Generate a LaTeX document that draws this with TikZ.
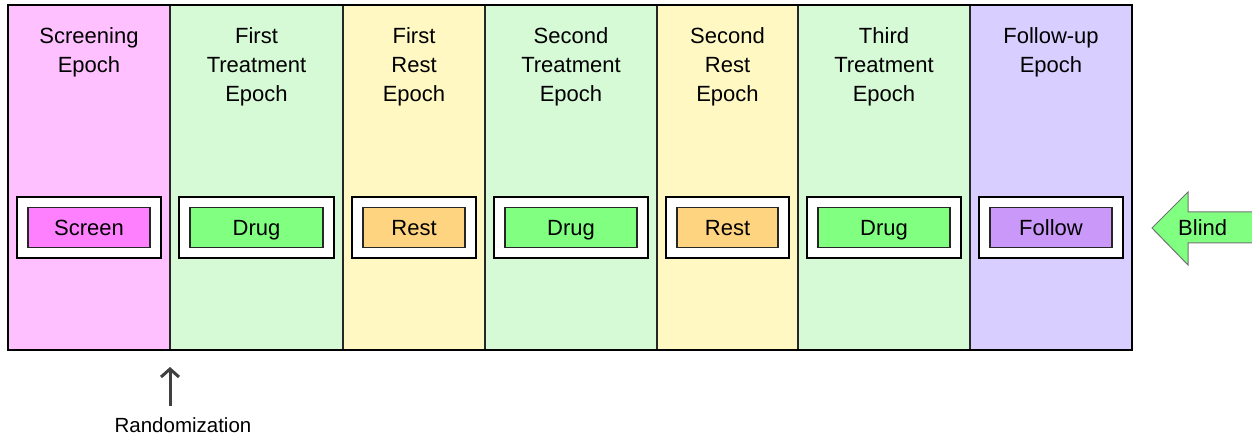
\documentclass[tikz,border=0pt]{standalone}
\usepackage{fontspec}
\setmainfont{Liberation Sans}
\usetikzlibrary{arrows.meta}

\definecolor{screenbg}{RGB}{255,192,255}
\definecolor{treatbg}{RGB}{214,249,214}
\definecolor{restbg}{RGB}{255,248,194}
\definecolor{followbg}{RGB}{216,206,255}
\definecolor{screenarm}{RGB}{255,128,255}
\definecolor{drugarm}{RGB}{128,255,128}
\definecolor{restarm}{RGB}{255,212,128}
\definecolor{followarm}{RGB}{202,152,248}

\tikzset{
  epoch/.style={draw=black!85, line width=1.4pt},
  epochtitle/.style={anchor=north, align=center, inner sep=0pt, font=\fontsize{22}{29}\selectfont},
  armframe/.style={draw=black, line width=2.8pt, fill=white, minimum height=61pt, inner sep=0pt},
  armbox/.style={draw=black!85, line width=1.2pt, minimum height=40pt, inner sep=0pt,
    text height=16pt, text depth=0pt, font=\fontsize{22}{25}\selectfont},
  plainlabel/.style={inner sep=0pt, font=\fontsize{20.5}{24}\selectfont},
}

\begin{document}
\begin{tikzpicture}[x=1pt,y=-1pt]
\useasboundingbox (0,0) rectangle (1252,438);

% epochs of the study
\foreach \l/\r/\bg/\ttl/\arm/\armc [count=\i] in {
  8/170/screenbg/{Screening\\Epoch}/Screen/screenarm,
  170/343/treatbg/{First\\Treatment\\Epoch}/Drug/drugarm,
  343/485/restbg/{First\\Rest\\Epoch}/Rest/restarm,
  485/657/treatbg/{Second\\Treatment\\Epoch}/Drug/drugarm,
  657/798/restbg/{Second\\Rest\\Epoch}/Rest/restarm,
  798/970/treatbg/{Third\\Treatment\\Epoch}/Drug/drugarm,
  970/1132/followbg/{Follow-up\\Epoch}/Follow/followarm} {
 \draw[epoch, fill=\bg] (\l,5) rectangle (\r,350);
 \node[epochtitle] (title\i) at ({(\l+\r)/2},27) {\ttl};
 \node[armframe, minimum width={\r-\l-18}] (frame\i) at ({(\l+\r)/2},227.5) {};
 \node[armbox, fill=\armc, minimum width={\r-\l-40}] (arm\i) at (frame\i.center) {\arm};
}
\draw[black, line width=1.8pt] (8,5) rectangle (1132,350);

% blinding arrow
\filldraw[fill=drugarm, draw=black!55, line width=1pt]
  (1152,228) -- (1188,192) -- (1188,212) -- (1262,212) -- (1262,243) -- (1188,243) -- (1188,265) -- cycle;
\node[plainlabel, font=\fontsize{22}{25}\selectfont, anchor=base west] (blind) at (1178,236) {Blind};

% randomization
\coordinate (rnd) at (170,367);
\node[plainlabel, anchor=base] (rand) at (183,432) {Randomization};
\draw[black!75, line width=3pt, -{Straight Barb[length=8pt,width=18pt,line width=3pt]}] (rnd |- 0,406) -- (rnd);

\end{tikzpicture}
\end{document}
